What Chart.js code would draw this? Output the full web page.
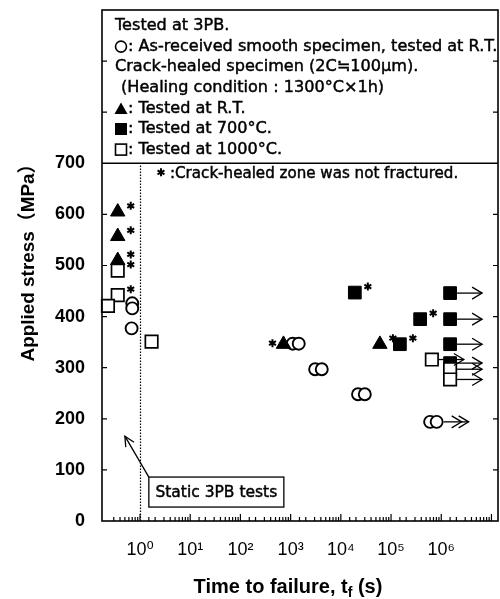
<!DOCTYPE html>
<html>
<head>
<meta charset="utf-8">
<script src="https://cdn.jsdelivr.net/npm/chart.js@4"></script>
<style>
  html, body { margin: 0; padding: 0; background: #fff; }
  canvas { display: block; }
</style>
</head>
<body>
<canvas id="creepChart" width="500" height="599"></canvas>
<script>
// As-received smooth specimen, tested at R.T. (open circles)
const asReceivedTime = [0.70, 0.70, 0.68, 1100, 1450, 3080, 4170, 22000, 30000, 600000, 810000];
const asReceivedStress = [426, 416, 377, 347, 347, 297, 297, 248, 248, 194, 194];
const asReceivedRunout = [0, 0, 0, 0, 0, 0, 0, 0, 0, 0, 2];

// Crack-healed, tested at R.T. (filled triangles)
const healedRTTime = [0.36, 0.36, 0.36, 720, 60000];
const healedRTStress = [605, 557, 510, 346, 346];
const healedRTStar = [1, 1, 1, -1, 1];

// Crack-healed, tested at 700C (filled squares)
const healed700Time = [19000, 380000, 150000, 1500000, 1500000, 1500000, 1500000];
const healed700Stress = [447, 395, 346, 446, 395, 346, 309];
const healed700Star = [1, 1, 1, 0, 0, 0, 0];
const healed700Runout = [0, 0, 0, 1, 1, 1, 1];

// Crack-healed, tested at 1000C (open squares)
const healed1000Time = [0.36, 0.36, 0.23, 1.7, 650000, 1500000, 1500000];
const healed1000Stress = [490, 442, 421, 351, 316, 297, 277];
const healed1000Star = [1, 1, 0, 0, 0, 0, 0];
const healed1000Runout = [0, 0, 0, 0, 1, 1, 1];

// tick labels
const xTickLabels = ['10⁰', '10¹', '10²', '10³', '10⁴', '10⁵', '10⁶'];
const yTickMax = 700;

// legend box
const legendLines = [
  'Tested at 3PB.',
  ': As-received smooth specimen, tested at R.T.',
  'Crack-healed specimen (2C≒100μm).',
  '(Healing condition : 1300°C×1h)',
  ': Tested at R.T.',
  ': Tested at 700°C.',
  ': Tested at 1000°C.'
];
const legendSymbols = ['', 'circle', '', '', 'triangle', 'square', 'openSquare'];
const noteText = ':Crack-healed zone was not fractured.';
const staticLabel = 'Static 3PB tests';
const staticBoxAt = { t: 1.5, s: 86 };
const staticArrowTip = { t: 0.5, s: 166 };

const FONT = '"Liberation Sans", "DejaVu Sans", "Noto Sans CJK JP", sans-serif';
const TEXT_FONT = '"DejaVu Sans", "Noto Sans CJK JP", sans-serif';

function pts(xs, ys) {
  return xs.map((x, i) => ({ x: x, y: ys[i] }));
}

function arrowHead(ctx, x, y) {
  ctx.beginPath();
  ctx.moveTo(x - 10, y - 6);
  ctx.lineTo(x, y);
  ctx.lineTo(x - 10, y + 6);
  ctx.stroke();
}

function star(ctx, x, y, r) {
  ctx.save();
  ctx.lineWidth = 2;
  ctx.beginPath();
  for (let k = 0; k < 3; k++) {
    const a = Math.PI / 2 + k * Math.PI / 3;
    ctx.moveTo(x - r * Math.cos(a), y - r * Math.sin(a));
    ctx.lineTo(x + r * Math.cos(a), y + r * Math.sin(a));
  }
  ctx.stroke();
  ctx.restore();
}

// slightly heavier text, like the scanned original
function heavyText(ctx, text, x, y) {
  ctx.fillText(text, x, y);
  ctx.save();
  ctx.lineWidth = 0.45;
  ctx.strokeText(text, x, y);
  ctx.restore();
}

// font size so that text fills a given width
function fitSize(ctx, text, width, weight, family) {
  ctx.font = weight + ' 20px ' + family;
  return 20 * width / ctx.measureText(text).width;
}

function legendSymbol(ctx, kind, x, y) {
  ctx.save();
  ctx.lineWidth = 1.6;
  ctx.beginPath();
  if (kind === 'circle') {
    ctx.arc(x + 6, y, 5.5, 0, Math.PI * 2);
    ctx.stroke();
  } else if (kind === 'triangle') {
    ctx.moveTo(x + 6, y - 6);
    ctx.lineTo(x + 12.5, y + 5.5);
    ctx.lineTo(x - 0.5, y + 5.5);
    ctx.closePath();
    ctx.fill();
  } else if (kind === 'square') {
    ctx.fillRect(x, y - 6, 12, 12);
  } else if (kind === 'openSquare') {
    ctx.strokeRect(x + 0.5, y - 5.5, 11, 11);
  }
  ctx.restore();
}

const decorPlugin = {
  id: 'decor',
  beforeDatasetsDraw(chart) {
    const ctx = chart.ctx;
    const xs = chart.scales.x, ys = chart.scales.y;
    // dotted line at t = 1 s (static tests)
    ctx.save();
    ctx.strokeStyle = '#000';
    ctx.lineWidth = 1.2;
    ctx.setLineDash([1.5, 1.5]);
    const x1 = Math.round(xs.getPixelForValue(1)) + 0.5;
    ctx.beginPath();
    ctx.moveTo(x1, ys.getPixelForValue(0));
    ctx.lineTo(x1, ys.getPixelForValue(yTickMax));
    ctx.stroke();
    ctx.restore();
  },
  afterDraw(chart) {
    const ctx = chart.ctx;
    const area = chart.chartArea;
    const xs = chart.scales.x, ys = chart.scales.y;
    ctx.save();

    // legend box region (above 700 MPa)
    const y700 = ys.getPixelForValue(yTickMax);
    ctx.fillStyle = '#fff';
    ctx.fillRect(area.left, area.top, area.right - area.left, y700 - area.top);

    // frame
    ctx.strokeStyle = '#000';
    ctx.fillStyle = '#000';
    ctx.lineWidth = 1.6;
    ctx.strokeRect(area.left, area.top, area.right - area.left, area.bottom - area.top);
    ctx.beginPath();
    ctx.moveTo(area.left, y700);
    ctx.lineTo(area.right, y700);
    ctx.stroke();

    // inward ticks, y
    ctx.lineWidth = 1.2;
    ys.ticks.forEach(t => {
      if (t.value <= 0 || t.value >= ys.max || t.value === yTickMax) return;
      const y = ys.getPixelForValue(t.value);
      ctx.beginPath();
      ctx.moveTo(area.left, y); ctx.lineTo(area.left + 5, y);
      ctx.moveTo(area.right, y); ctx.lineTo(area.right - 5, y);
      ctx.stroke();
    });
    // inward ticks, x (log)
    xs.ticks.forEach(t => {
      if (t.value <= xs.min * 1.001 || t.value >= xs.max / 1.001) return;
      const e = Math.log10(t.value);
      const major = Math.abs(e - Math.round(e)) < 1e-6;
      const x = xs.getPixelForValue(t.value);
      ctx.beginPath();
      ctx.moveTo(x, area.bottom);
      ctx.lineTo(x, area.bottom - (major ? 7 : 4));
      ctx.stroke();
    });

    // stars and run-out arrows
    ctx.lineWidth = 1.3;
    chart.data.datasets.forEach((ds, di) => {
      const meta = chart.getDatasetMeta(di);
      meta.data.forEach((p, i) => {
        const s = ds.stars ? ds.stars[i] : 0;
        if (s === 1) star(ctx, p.x + 13, p.y - 6, 4);
        if (s === -1) star(ctx, p.x - 11, p.y - 1, 4);
        const run = ds.runout ? ds.runout[i] : 0;
        if (run > 0) {
          const tip = p.x + 32;
          ctx.beginPath();
          ctx.moveTo(p.x + 7, p.y);
          ctx.lineTo(tip, p.y);
          ctx.stroke();
          arrowHead(ctx, tip, p.y);
          if (run === 2) arrowHead(ctx, tip - 7, p.y);
        }
      });
    });

    // legend text
    const lx = area.left + 13;
    const size = fitSize(ctx, legendLines[1], 369, 'normal', TEXT_FONT);
    ctx.font = size.toFixed(1) + 'px ' + TEXT_FONT;
    ctx.textAlign = 'left';
    ctx.textBaseline = 'middle';
    legendLines.forEach((line, i) => {
      const y = area.top + 16 + i * 20.6;
      if (legendSymbols[i]) {
        legendSymbol(ctx, legendSymbols[i], lx, y);
        heavyText(ctx, line, lx + 13, y);
      } else {
        heavyText(ctx, line, lx + (i === 3 ? 6 : 0), y);
      }
    });
    star(ctx, area.left + 59, y700 + 9, 4);
    ctx.font = fitSize(ctx, noteText, 288, 'normal', TEXT_FONT).toFixed(1) + 'px ' + TEXT_FONT;
    heavyText(ctx, noteText, area.left + 68, y700 + 11);

    // static 3PB annotation
    const bx = xs.getPixelForValue(staticBoxAt.t);
    const by = ys.getPixelForValue(staticBoxAt.s);
    ctx.fillStyle = '#fff';
    ctx.fillRect(bx, by, 135, 30);
    ctx.lineWidth = 1.3;
    ctx.strokeRect(bx, by, 135, 30);
    ctx.fillStyle = '#000';
    ctx.font = fitSize(ctx, staticLabel, 122, 'normal', TEXT_FONT).toFixed(1) + 'px ' + TEXT_FONT;
    ctx.textAlign = 'center';
    heavyText(ctx, staticLabel, bx + 67.5, by + 15.5);
    const tx = xs.getPixelForValue(staticArrowTip.t);
    const ty = ys.getPixelForValue(staticArrowTip.s);
    ctx.lineWidth = 1.3;
    ctx.beginPath();
    ctx.moveTo(bx, by);
    ctx.lineTo(tx, ty);
    ctx.stroke();
    const ang = Math.atan2(ty - by, tx - bx);
    ctx.beginPath();
    ctx.moveTo(tx - 11 * Math.cos(ang - 0.45), ty - 11 * Math.sin(ang - 0.45));
    ctx.lineTo(tx, ty);
    ctx.lineTo(tx - 11 * Math.cos(ang + 0.45), ty - 11 * Math.sin(ang + 0.45));
    ctx.stroke();

    // axis titles
    const yTitle = 'Applied stress（MPa）';
    ctx.font = 'bold ' + fitSize(ctx, yTitle, 207, 'bold', FONT).toFixed(1) + 'px ' + FONT;
    ctx.save();
    ctx.translate(29, 258);
    ctx.rotate(-Math.PI / 2);
    ctx.fillText(yTitle, 0, 0);
    ctx.restore();

    ctx.textAlign = 'left';
    ctx.textBaseline = 'alphabetic';
    const a = 'Time to failure, t', sub = 'f', b = ' (s)';
    const big = 'bold 20px ' + FONT, small = 'bold 14px ' + FONT;
    ctx.font = big;
    const wa = ctx.measureText(a).width, wb = ctx.measureText(b).width;
    ctx.font = small;
    const ws = ctx.measureText(sub).width;
    const x0 = 288 - (wa + ws + wb) / 2;
    ctx.font = big;
    ctx.fillText(a, x0, 593);
    ctx.font = small;
    ctx.fillText(sub, x0 + wa, 597);
    ctx.font = big;
    ctx.fillText(b, x0 + wa + ws, 593);

    ctx.restore();
  }
};

// invisible grid: only used for the gap between axis and tick labels
const hiddenGrid = (len) => ({
  display: true,
  drawOnChartArea: false,
  drawTicks: true,
  tickLength: len,
  color: 'rgba(0,0,0,0)'
});

new Chart(document.getElementById('creepChart'), {
  type: 'scatter',
  data: {
    datasets: [
      {
        label: 'Crack-healed, 1000°C',
        data: pts(healed1000Time, healed1000Stress),
        stars: healed1000Star,
        runout: healed1000Runout,
        pointStyle: 'rect',
        pointRadius: 8.8,
        backgroundColor: '#fff',
        borderColor: '#000',
        borderWidth: 1.7,
        order: 0
      },
      {
        label: 'Crack-healed, 700°C',
        data: pts(healed700Time, healed700Stress),
        stars: healed700Star,
        runout: healed700Runout,
        pointStyle: 'rect',
        pointRadius: 9,
        backgroundColor: '#000',
        borderColor: '#000',
        borderWidth: 1,
        order: 1
      },
      {
        label: 'Crack-healed, R.T.',
        data: pts(healedRTTime, healedRTStress),
        stars: healedRTStar,
        pointStyle: 'triangle',
        pointRadius: 8.3,
        backgroundColor: '#000',
        borderColor: '#000',
        borderWidth: 1,
        order: 2
      },
      {
        label: 'As-received, R.T.',
        data: pts(asReceivedTime, asReceivedStress),
        runout: asReceivedRunout,
        pointStyle: 'circle',
        pointRadius: 6,
        backgroundColor: '#fff',
        borderColor: '#000',
        borderWidth: 1.9,
        order: 3
      }
    ]
  },
  options: {
    responsive: false,
    animation: false,
    devicePixelRatio: 1,
    clip: false,
    layout: {
      autoPadding: false,
      padding: { top: 10, right: 2, left: 0, bottom: 0 }
    },
    plugins: {
      legend: { display: false },
      tooltip: { enabled: false }
    },
    scales: {
      x: {
        type: 'logarithmic',
        min: 0.175,
        max: 1.35e7,
        afterFit: s => {
          s.height = 78;
          s.paddingLeft = 0;
          s.paddingRight = 0;
        },
        grid: hiddenGrid(18),
        border: { display: false },
        ticks: {
          autoSkip: false,
          maxRotation: 0,
          padding: 0,
          color: '#000',
          font: { family: FONT, size: 18 },
          callback: v => {
            const e = Math.log10(v);
            const r = Math.round(e);
            return Math.abs(e - r) < 1e-6 && xTickLabels[r] ? xTickLabels[r] : '';
          }
        }
      },
      y: {
        min: 0,
        max: 1000,
        afterFit: s => {
          s.width = 102;
          s.paddingTop = 0;
          s.paddingBottom = 0;
        },
        grid: hiddenGrid(17),
        border: { display: false },
        ticks: {
          stepSize: 100,
          padding: 0,
          color: '#000',
          font: { family: FONT, size: 18, weight: 'bold' },
          callback: v => (v <= yTickMax ? String(v) : '')
        }
      }
    }
  },
  plugins: [decorPlugin]
});
</script>
</body>
</html>
